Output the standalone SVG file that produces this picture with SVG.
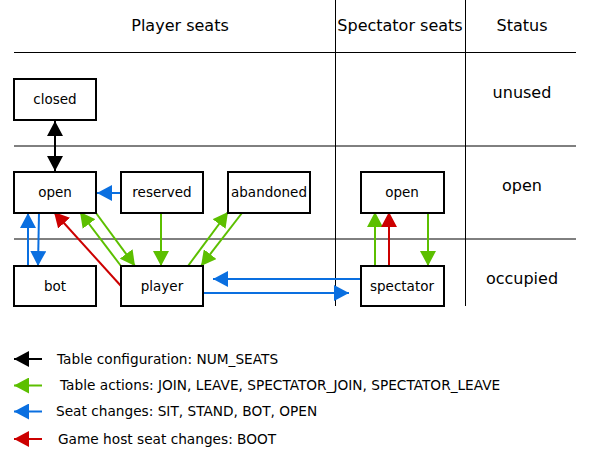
<svg xmlns="http://www.w3.org/2000/svg" width="600" height="470" viewBox="0 0 600 470">
<defs>
<marker id="ak" viewBox="0 0 15 16" refX="15" refY="8" markerWidth="15" markerHeight="16" markerUnits="userSpaceOnUse" orient="auto-start-reverse"><path d="M0,0 L15,8 L0,16 z" fill="#000"/></marker>
<marker id="ag" viewBox="0 0 15 16" refX="15" refY="8" markerWidth="15" markerHeight="16" markerUnits="userSpaceOnUse" orient="auto"><path d="M0,0 L15,8 L0,16 z" fill="#5cbf00"/></marker>
<marker id="ab" viewBox="0 0 15 16" refX="15" refY="8" markerWidth="15" markerHeight="16" markerUnits="userSpaceOnUse" orient="auto"><path d="M0,0 L15,8 L0,16 z" fill="#0a6fe0"/></marker>
<marker id="ar" viewBox="0 0 15 16" refX="15" refY="8" markerWidth="15" markerHeight="16" markerUnits="userSpaceOnUse" orient="auto"><path d="M0,0 L15,8 L0,16 z" fill="#cc0000"/></marker>
</defs>
<style>
text{font-family:"DejaVu Sans",sans-serif;fill:#000}
.hd{font-size:16px;text-anchor:middle}
.st{font-size:16px;text-anchor:middle}
.nl{font-size:13.5px;text-anchor:middle}
.lg{font-size:13.7px}
.box{fill:#fff;stroke:#000;stroke-width:2}
.grid{stroke:#000;stroke-width:1;fill:none}
.k{stroke:#000;stroke-width:2;fill:none}
.g{stroke:#5cbf00;stroke-width:2;fill:none}
.b{stroke:#0a6fe0;stroke-width:2;fill:none}
.r{stroke:#cc0000;stroke-width:2;fill:none}
</style>
<rect width="600" height="470" fill="#fff"/>
<g id="table">
<line class="grid" x1="14" y1="52.5" x2="576" y2="52.5"/>
<line class="grid" x1="14" y1="146" x2="576" y2="146"/>
<line class="grid" x1="14" y1="239" x2="576" y2="239"/>
<line class="grid" x1="335.5" y1="0" x2="335.5" y2="306"/>
<line class="grid" x1="465.5" y1="0" x2="465.5" y2="306"/>
<text class="hd" x="180" y="31">Player seats</text>
<text class="hd" x="400" y="31">Spectator seats</text>
<text class="hd" x="522" y="31">Status</text>
<text class="st" x="522" y="98">unused</text>
<text class="st" x="522" y="191">open</text>
<text class="st" x="522" y="284">occupied</text>
</g>
<g id="connectors">
<line class="k" x1="55" y1="121" x2="55" y2="171" marker-start="url(#ak)" marker-end="url(#ak)"/>
<line class="b" x1="121" y1="193" x2="97" y2="193" marker-end="url(#ab)"/>
<line class="b" x1="28" y1="266" x2="28" y2="213" marker-end="url(#ab)"/>
<line class="b" x1="39" y1="213" x2="38" y2="266" marker-end="url(#ab)"/>
<line class="r" x1="121" y1="286" x2="54" y2="212" marker-end="url(#ar)"/>
<line class="g" x1="96" y1="213" x2="135" y2="266" marker-end="url(#ag)"/>
<line class="g" x1="121" y1="266" x2="80" y2="212" marker-end="url(#ag)"/>
<line class="g" x1="161" y1="213" x2="161" y2="266" marker-end="url(#ag)"/>
<line class="g" x1="188" y1="266" x2="228" y2="212" marker-end="url(#ag)"/>
<line class="g" x1="242" y1="213" x2="201" y2="266" marker-end="url(#ag)"/>
<line class="b" x1="361" y1="279" x2="213" y2="279" marker-end="url(#ab)"/>
<line class="b" x1="203" y1="293" x2="349" y2="293" marker-end="url(#ab)"/>
<line class="g" x1="375" y1="266" x2="375" y2="212" marker-end="url(#ag)"/>
<line class="r" x1="389" y1="266" x2="389" y2="212" marker-end="url(#ar)"/>
<line class="g" x1="428" y1="213" x2="428" y2="266" marker-end="url(#ag)"/>
</g>
<g id="closed"><rect class="box" x="14" y="79" width="82" height="41"/><text class="nl" x="55" y="104">closed</text></g>
<g id="open"><rect class="box" x="14" y="172" width="82" height="41"/><text class="nl" x="55" y="197">open</text></g>
<g id="reserved"><rect class="box" x="121" y="172" width="82" height="41"/><text class="nl" x="162" y="197">reserved</text></g>
<g id="abandoned"><rect class="box" x="228" y="172" width="82" height="41"/><text class="nl" x="269" y="197">abandoned</text></g>
<g id="bot"><rect class="box" x="14" y="266" width="82" height="40"/><text class="nl" x="55" y="291">bot</text></g>
<g id="player"><rect class="box" x="121" y="266" width="82" height="40"/><text class="nl" x="162" y="291">player</text></g>
<g id="spec_open"><rect class="box" x="361" y="172" width="83" height="41"/><text class="nl" x="402" y="197">open</text></g>
<g id="spectator"><rect class="box" x="361" y="266" width="83" height="40"/><text class="nl" x="402" y="291">spectator</text></g>
<g id="legend">
<line class="k" x1="42" y1="359" x2="14" y2="359" marker-end="url(#ak)"/>
<line class="g" x1="42" y1="385.5" x2="14" y2="385.5" marker-end="url(#ag)"/>
<line class="b" x1="42" y1="411.5" x2="14" y2="411.5" marker-end="url(#ab)"/>
<line class="r" x1="42" y1="439" x2="14" y2="439" marker-end="url(#ar)"/>
<text class="lg" x="57" y="363.5">Table configuration: NUM_SEATS</text>
<text class="lg" x="60" y="390">Table actions: JOIN, LEAVE, SPECTATOR_JOIN, SPECTATOR_LEAVE</text>
<text class="lg" x="56" y="416">Seat changes: SIT, STAND, BOT, OPEN</text>
<text class="lg" x="58" y="443.5">Game host seat changes: BOOT</text>
</g>
</svg>
